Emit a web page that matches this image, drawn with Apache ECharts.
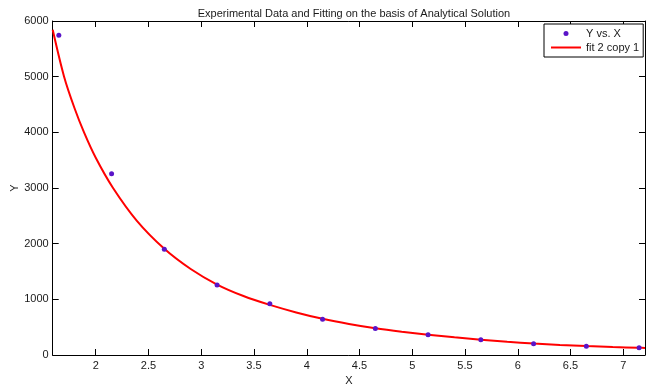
<!DOCTYPE html>
<html>
<head>
<meta charset="utf-8">
<script src="https://cdn.jsdelivr.net/npm/echarts@6/dist/echarts.min.js"></script>
<style>
html,body{margin:0;padding:0;background:#fff;}
#chart{width:657px;height:385px;}
</style>
</head>
<body>
<div id="chart"></div>
<script>
// Experimental data (Y vs. X)
var dataX = [1.65, 2.15, 2.65, 3.15, 3.65, 4.15, 4.65, 5.15, 5.65, 6.15, 6.65, 7.15];
var dataY = [5743, 3257, 1899, 1257, 922, 643, 475, 362, 272, 200, 158, 128];
// Fitted curve (fit 2 copy 1)
var fitX = [1.592, 1.70, 1.80, 1.889, 2.0, 2.164, 2.39, 2.65, 2.9, 3.15, 3.4, 3.65, 3.9, 4.15, 4.4, 4.65, 4.9, 5.15, 5.4, 5.65, 5.9, 6.15, 6.4, 6.65, 6.9, 7.15, 7.206];
var fitY = [5843, 5000, 4428, 4000, 3544, 3000, 2410, 1908, 1545, 1266, 1060, 900, 765, 650, 557, 480, 418, 365, 317, 276, 238, 206, 181, 160, 143, 130, 127];
// Tick labels
var xTicks = [2, 2.5, 3, 3.5, 4, 4.5, 5, 5.5, 6, 6.5, 7];
var xMin = 1.592, xMax = 7.206;
var yMin = 0, yMax = 6000, yStep = 1000;

var scatterData = dataX.map(function (x, i) { return [x, dataY[i]]; });
var fitData = fitX.map(function (x, i) { return [x, fitY[i]]; });

var font = 'Arial, "Liberation Sans", Helvetica, sans-serif';
var txt = '#1a1a1a';

var chart = echarts.init(document.getElementById('chart'), null, {renderer: 'canvas'});
chart.setOption({
  animation: false,
  backgroundColor: '#ffffff',
  title: {
    text: 'Experimental Data and Fitting on the basis of Analytical Solution',
    left: 349, textAlign: 'center', top: 3,
    textStyle: {fontFamily: font, fontSize: 11, fontWeight: 'normal', color: txt}
  },
  legend: {
    orient: 'vertical',
    left: 544, top: 24,
    padding: [4, 4, 4, 7],
    itemGap: 3,
    itemWidth: 30, itemHeight: 5,
    borderColor: '#000', borderWidth: 1,
    backgroundColor: '#fff',
    textStyle: {fontFamily: font, fontSize: 11, color: txt},
    data: [
      {name: 'Y vs. X', icon: 'circle'},
      {name: 'fit 2 copy 1', icon: 'path://M0,0 L30,0 L30,2 L0,2 Z', itemStyle: {color: '#ff0000'}}
    ]
  },
  grid: {left: 52.7, right: 12, top: 21, bottom: 30, containLabel: false, outerBoundsMode: 'none'},
  xAxis: [{
    type: 'value', min: xMin, max: xMax, position: 'bottom',
    name: 'X', nameLocation: 'middle', nameGap: 17,
    nameTextStyle: {fontFamily: font, fontSize: 11, color: txt},
    axisLine: {show: true, onZero: false, lineStyle: {color: '#000', width: 1}},
    axisTick: {show: true, inside: true, length: 6, customValues: xTicks, lineStyle: {color: '#000'}},
    axisLabel: {show: true, customValues: xTicks, margin: 5, fontFamily: font, fontSize: 11, color: txt},
    splitLine: {show: false}
  }, {
    type: 'value', min: xMin, max: xMax, position: 'top',
    axisLine: {show: true, onZero: false, lineStyle: {color: '#000', width: 1}},
    axisTick: {show: true, inside: true, length: 6, customValues: xTicks, lineStyle: {color: '#000'}},
    axisLabel: {show: false},
    splitLine: {show: false}
  }],
  yAxis: [{
    type: 'value', min: yMin, max: yMax, interval: yStep, position: 'left',
    name: 'Y', nameLocation: 'middle', nameGap: 32, nameRotate: 90, nameMoveOverlap: false,
    nameTextStyle: {fontFamily: font, fontSize: 11, color: txt},
    axisLine: {show: true, onZero: false, lineStyle: {color: '#000', width: 1}},
    axisTick: {show: true, inside: true, length: 6, lineStyle: {color: '#000'}},
    axisLabel: {show: true, margin: 4, fontFamily: font, fontSize: 11, color: txt,
      formatter: function (v) { return String(v); }},
    splitLine: {show: false}
  }, {
    type: 'value', min: yMin, max: yMax, interval: yStep, position: 'right',
    axisLine: {show: true, onZero: false, lineStyle: {color: '#000', width: 1}},
    axisTick: {show: true, inside: true, length: 6, lineStyle: {color: '#000'}},
    axisLabel: {show: false},
    splitLine: {show: false}
  }],
  series: [{
    name: 'fit 2 copy 1', type: 'line', data: fitData,
    xAxisIndex: 0, yAxisIndex: 0,
    smooth: 0.3, showSymbol: false, symbol: 'none',
    lineStyle: {color: '#ff0000', width: 2},
    itemStyle: {color: '#ff0000'},
    z: 2
  }, {
    name: 'Y vs. X', type: 'scatter', data: scatterData,
    xAxisIndex: 0, yAxisIndex: 0,
    symbol: 'circle', symbolSize: 5,
    itemStyle: {color: '#5a14c8', opacity: 1},
    z: 3
  }]
});
</script>
</body>
</html>
